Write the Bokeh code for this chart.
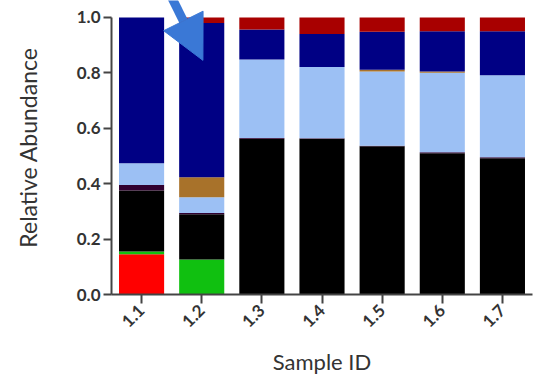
from math import pi
from bokeh.plotting import figure
from bokeh.models import FactorRange, Range1d, Arrow, NormalHead, ColumnDataSource
from bokeh.embed import file_html
from bokeh.resources import INLINE

samples = ["1.1", "1.2", "1.3", "1.4", "1.5", "1.6", "1.7"]
red = [0.145, 0.0, 0.0, 0.0, 0.0, 0.0, 0.0]
green = [0.010, 0.126, 0.0, 0.0, 0.0, 0.0, 0.0]
black = [0.220, 0.164, 0.562, 0.562, 0.535, 0.510, 0.492]
purple = [0.020, 0.004, 0.003, 0.002, 0.002, 0.003, 0.003]
light_blue = [0.079, 0.057, 0.283, 0.257, 0.268, 0.287, 0.296]
brown = [0.0, 0.072, 0.0, 0.0, 0.006, 0.005, 0.0]
navy = [0.526, 0.557, 0.108, 0.119, 0.137, 0.145, 0.159]
dark_red = [0.0, 0.020, 0.044, 0.060, 0.052, 0.050, 0.050]

y_ticks = [0.0, 0.2, 0.4, 0.6, 0.8, 1.0]

stackers = ["red", "green", "black", "purple", "light_blue", "brown", "navy", "dark_red"]
colors = ["#FF0000", "#10C010", "#000000", "#300030", "#9CC0F4", "#A8722A", "#000084", "#A80000"]

source = ColumnDataSource(dict(
    sample=samples, red=red, green=green, black=black, purple=purple,
    light_blue=light_blue, brown=brown, navy=navy, dark_red=dark_red,
))

p = figure(
    width=542, height=377,
    x_range=FactorRange(*samples, range_padding=0),
    y_range=Range1d(0, 1.061),
    output_backend="svg", toolbar_location=None,
    min_border_left=111, min_border_right=10, min_border_top=0, min_border_bottom=82,
)
p.outline_line_color = None
p.background_fill_color = "white"
p.border_fill_color = "white"
p.grid.visible = False

p.vbar_stack(stackers, x="sample", width=0.75, source=source,
             fill_color=colors, line_color=None)

# Arrow annotation
p.add_layout(Arrow(
    end=NormalHead(size=44, fill_color="#3A78D6", line_color="#3A78D6"),
    x_start=0.96, y_start=1.09, x_end=1.52, y_end=0.845,
    line_color="#3A78D6", line_width=9,
))

font = "Lato"
ax_col = "#444444"
lab_col = "#333333"

yax = p.yaxis[0]
yax.ticker = y_ticks
yax.bounds = (0, 1)
yax.major_label_overrides = {v: f"{v:.1f}" for v in y_ticks}
yax.axis_line_width = 2
yax.axis_line_color = ax_col
yax.major_tick_line_color = ax_col
yax.major_tick_line_width = 2
yax.major_tick_out = 8
yax.major_tick_in = 0
yax.minor_tick_line_color = None
yax.major_label_standoff = 3
yax.major_label_text_font = font
yax.major_label_text_font_style = "bold"
yax.major_label_text_font_size = "17px"
yax.major_label_text_color = lab_col
yax.axis_label = "Relative Abundance"
yax.axis_label_text_font = font
yax.axis_label_text_font_style = "normal"
yax.axis_label_text_font_size = "23px"
yax.axis_label_text_color = lab_col
yax.axis_label_standoff = 32

xax = p.xaxis[0]
xax.axis_line_width = 2
xax.axis_line_color = ax_col
xax.major_tick_line_color = ax_col
xax.major_tick_line_width = 2
xax.major_tick_out = 9
xax.major_tick_in = 0
xax.major_label_orientation = pi / 4
xax.major_label_standoff = 4
xax.major_label_text_font = font
xax.major_label_text_font_style = "bold"
xax.major_label_text_font_size = "17px"
xax.major_label_text_color = lab_col
xax.axis_label = "Sample ID"
xax.axis_label_text_font = font
xax.axis_label_text_font_style = "normal"
xax.axis_label_text_font_size = "22px"
xax.axis_label_text_color = lab_col
xax.axis_label_standoff = 12

open("out.html", "w").write(file_html(p, INLINE))
